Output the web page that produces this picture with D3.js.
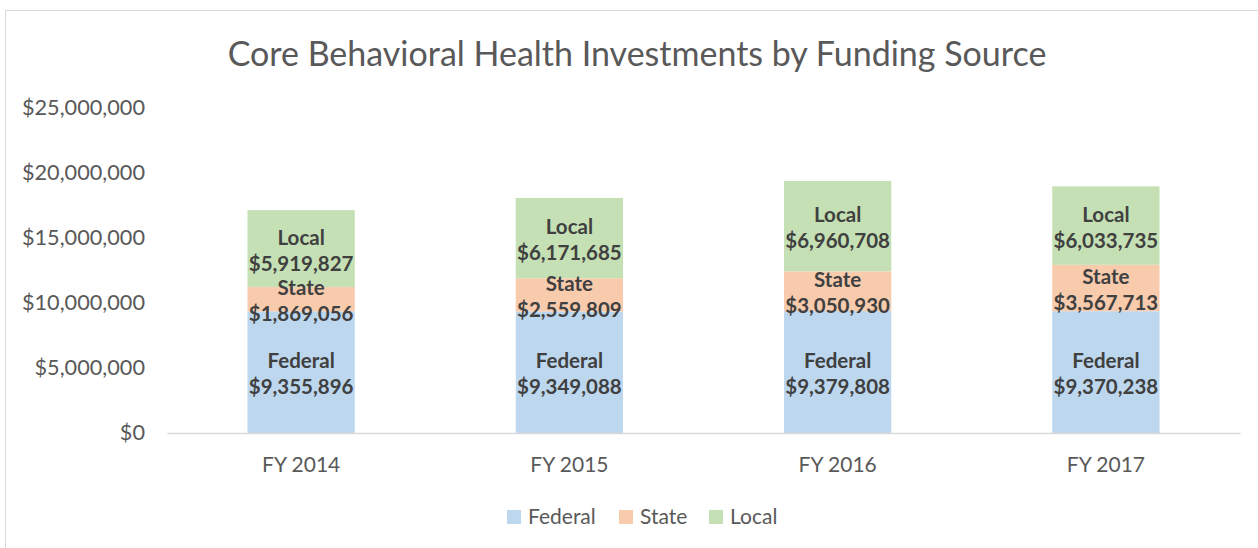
<!DOCTYPE html>
<html>
<head>
<meta charset="utf-8">
<script src="https://cdnjs.cloudflare.com/ajax/libs/d3/7.8.5/d3.min.js"></script>
<style>
  body { margin: 0; background: #fff; }
  text { font-family: Lato, "Open Sans", sans-serif; }
</style>
</head>
<body>
<div id="chart"></div>
<script>
// data
var years = ["FY 2014", "FY 2015", "FY 2016", "FY 2017"];
var sources = ["Federal", "State", "Local"];
var federal = [9355896, 9349088, 9379808, 9370238];
var state = [1869056, 2559809, 3050930, 3567713];
var local = [5919827, 6171685, 6960708, 6033735];
var yTicks = [0, 5000000, 10000000, 15000000, 20000000, 25000000];
var colors = ["#bdd7ee", "#f8cbad", "#c5e0b4"];

var width = 1258, height = 548;

var svg = d3.select("#chart").append("svg")
    .attr("width", width)
    .attr("height", height);

// chart frame (cut off on the right and bottom)
svg.append("rect")
    .attr("x", 5.5).attr("y", 10.5)
    .attr("width", 1400).attr("height", 800)
    .attr("fill", "none")
    .attr("stroke", "#d9d9d9");

svg.append("text")
    .attr("x", 637).attr("y", 66)
    .attr("text-anchor", "middle")
    .attr("font-size", 34)
    .attr("fill", "#595959")
    .text("Core Behavioral Health Investments by Funding Source");

// build rows for the stack
var rows = years.map(function(y, i) {
    return { year: y, Federal: federal[i], State: state[i], Local: local[i] };
});
var stacked = d3.stack().keys(sources)(rows);

var x = d3.scaleBand()
    .domain(years)
    .range([167, 1240])
    .paddingInner(0.6)
    .paddingOuter(0.3);

var y = d3.scaleLinear()
    .domain([0, 25000000])
    .range([433, 108]);

var fmt = d3.format("$,.0f");

// y axis labels, no gridlines
var yAxis = d3.axisLeft(y).tickValues(yTicks).tickFormat(fmt).tickSize(0).tickPadding(0);
var gy = svg.append("g")
    .attr("transform", "translate(145,0)")
    .call(yAxis);
gy.select(".domain").remove();
gy.selectAll("text")
    .attr("font-size", 21.7)
    .attr("fill", "#595959")
    .style("font-family", "Lato, sans-serif");

// bars
var layers = svg.selectAll("g.layer")
    .data(stacked)
    .enter().append("g")
    .attr("class", "layer")
    .attr("fill", function(d, i) { return colors[i]; });

layers.selectAll("rect")
    .data(function(d) { return d; })
    .enter().append("rect")
    .attr("x", function(d) { return x(d.data.year); })
    .attr("width", x.bandwidth())
    .attr("y", function(d) { return y(d[1]); })
    .attr("height", function(d) { return y(d[0]) - y(d[1]); });

// x axis baseline + category labels
var xAxis = d3.axisBottom(x).tickSize(0).tickPadding(0);
var gx = svg.append("g")
    .attr("transform", "translate(0,433)")
    .call(xAxis);
gx.select(".domain").attr("stroke", "#d9d9d9").attr("stroke-width", 1.5);
gx.selectAll("text")
    .attr("y", 24)
    .attr("dy", "0.71em")
    .attr("font-size", 21)
    .attr("fill", "#595959")
    .style("font-family", "Lato, sans-serif");

// data labels: name on one line, value on the next
stacked.forEach(function(layer) {
    var key = layer.key;
    layer.forEach(function(d) {
        var cx = x(d.data.year) + x.bandwidth() / 2;
        var cy = (y(d[0]) + y(d[1])) / 2;
        var t = svg.append("text")
            .attr("text-anchor", "middle")
            .attr("font-size", 20.5)
            .attr("font-weight", "bold")
            .attr("fill", "#404040");
        t.append("tspan").attr("x", cx).attr("y", cy - 11).attr("dy", "0.35em").text(key);
        t.append("tspan").attr("x", cx).attr("y", cy + 15).attr("dy", "0.35em").text(fmt(d.data[key]));
    });
});

// legend
var legendX = [507, 619, 709];
var leg = svg.selectAll("g.leg")
    .data(sources)
    .enter().append("g")
    .attr("class", "leg")
    .attr("transform", function(d, i) { return "translate(" + legendX[i] + ",517)"; });
leg.append("rect")
    .attr("x", 0).attr("y", -7)
    .attr("width", 14).attr("height", 14)
    .attr("fill", function(d, i) { return colors[i]; });
leg.append("text")
    .attr("x", 21).attr("dy", "0.35em")
    .attr("font-size", 21)
    .attr("fill", "#595959")
    .text(function(d) { return d; });
</script>
</body>
</html>
